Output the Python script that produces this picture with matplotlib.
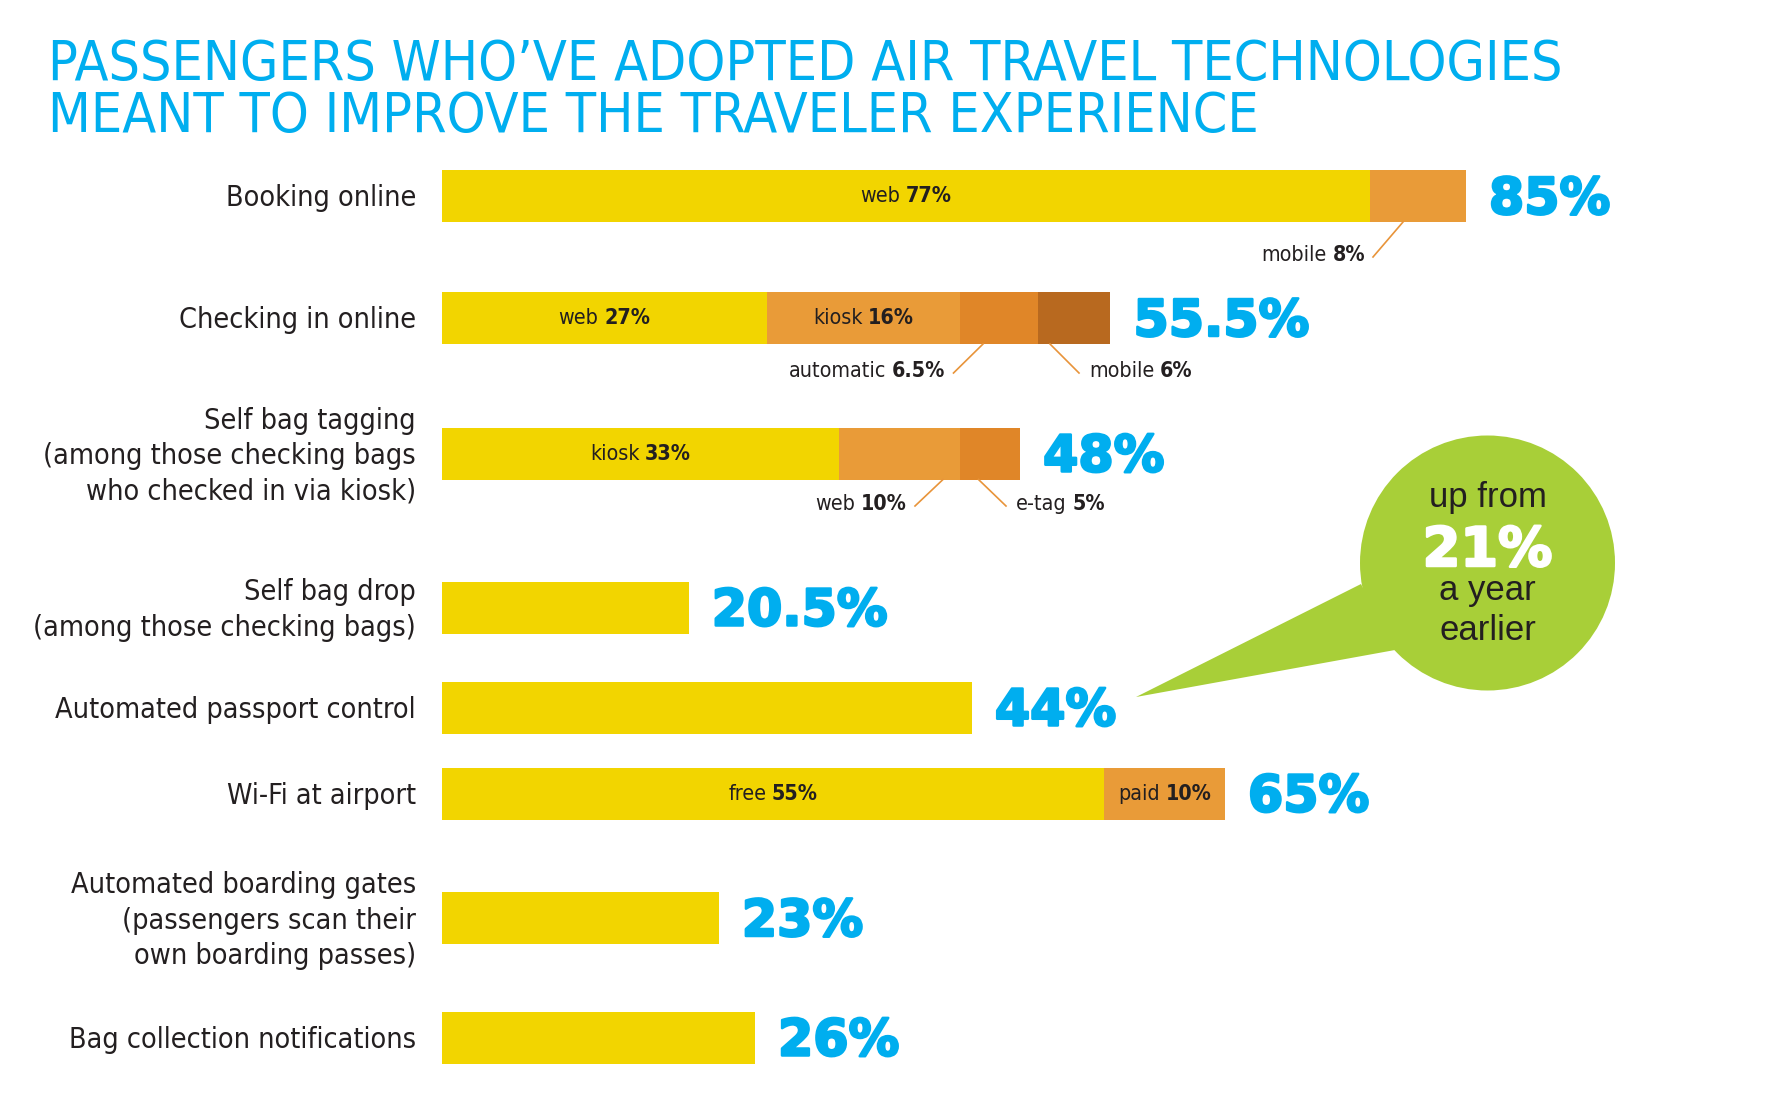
import matplotlib
matplotlib.use("Agg")
import matplotlib.pyplot as plt
import matplotlib.patheffects as pe
from matplotlib.patches import Ellipse, Polygon
from matplotlib.offsetbox import TextArea, HPacker, AnnotationBbox

# ---- data ----
categories = [
    "Booking online",
    "Checking in online",
    "Self bag tagging\n(among those checking bags\nwho checked in via kiosk)",
    "Self bag drop\n(among those checking bags)",
    "Automated passport control",
    "Wi-Fi at airport",
    "Automated boarding gates\n(passengers scan their\nown boarding passes)",
    "Bag collection notifications",
]
seg_names = [
    ["web", "mobile"],
    ["web", "kiosk", "automatic", "mobile"],
    ["kiosk", "web", "e-tag"],
    [""],
    [""],
    ["free", "paid"],
    [""],
    [""],
]
seg_values = [
    [77, 8],
    [27, 16, 6.5, 6],
    [33, 10, 5],
    [20.5],
    [44],
    [55, 10],
    [23],
    [26],
]
# segments whose label sits outside the bar with a leader line
callout_segs = [(0, 1), (1, 2), (1, 3), (2, 1), (2, 2)]
bubble_lines = ["up from", "21%", "a year", "earlier"]

title_lines = ["PASSENGERS WHO\u2019VE ADOPTED AIR TRAVEL TECHNOLOGIES",
               "MEANT TO IMPROVE THE TRAVELER EXPERIENCE"]

# ---- layout (figure pixels) ----
W, H = 1784, 1118
x0_px = 441.7
px_per_pct = 12.05
row_y = [196, 318, 453.5, 607.5, 707.5, 793.5, 918, 1037.5]
bar_h = 52

# callout layout: leader line (top x px, bottom x px, bottom y px), text side
callout_layout = [
    (1403, 1373, 257, "left"),
    (983, 953.5, 373, "left"),
    (1050, 1079, 373, "right"),
    (943, 915, 506, "left"),
    (978.5, 1006, 506, "right"),
]

colors = ["#F2D500", "#E99B38", "#E08628", "#B8691F"]
blue = "#00AEEF"
green = "#A8CF38"
dark = "#231F20"
cond = dict(family="DejaVu Sans", stretch="condensed")


def px2x(px):
    return (px - x0_px) / px_per_pct


def mixed_label(ax, x, y, name, value, align, size=15.4):
    a = TextArea(name, textprops=dict(size=size, color=dark, **cond))
    b = TextArea(value, textprops=dict(size=size, color=dark,
                                       weight="bold", **cond))
    box = HPacker(children=[a, b], align="baseline", pad=0, sep=4)
    ab = AnnotationBbox(box, (x, y), xycoords="data", frameon=False,
                        box_alignment=(align, 0.5), pad=0)
    ax.add_artist(ab)


fig = plt.figure(figsize=(W / 100, H / 100), dpi=100)
ax = fig.add_axes([0, 0, 1, 1])
ax.set_xlim(px2x(0), px2x(W))
ax.set_ylim(H, 0)
ax.axis("off")

# title
for i, line in enumerate(title_lines):
    ax.text(px2x(48), 80 + i * 52, line, size=39.8, color=blue,
            ha="left", va="baseline", **cond)

heavy_blue = [pe.withStroke(linewidth=1.8, foreground=blue)]
for r, (cat, names, vals) in enumerate(zip(categories, seg_names, seg_values)):
    y = row_y[r]
    left = 0
    for s, (nm, v) in enumerate(zip(names, vals)):
        ax.barh(y, v, left=left, height=bar_h, color=colors[s], linewidth=0)
        if nm and (r, s) not in callout_segs:
            mixed_label(ax, left + v / 2, y, nm, f"{v:g}%", 0.5)
        left += v
    total = sum(vals)
    ax.text(total + 23 / px_per_pct, y + 18, f"{total:g}%", family="DejaVu Sans",
            weight="bold", size=36.5, color=blue, ha="left", va="baseline",
            path_effects=heavy_blue)
    n = cat.count("\n") + 1
    # baseline alignment refers to the last line of a multi-line text
    ax.text(px2x(416), y + 10.5 + (n - 1) * 35.7 / 2, cat, size=20.6,
            color=dark, ha="right", va="baseline", linespacing=1.335, **cond)

# callouts with leader lines
for (r, s), (top_x, bot_x, bot_y, side) in zip(callout_segs, callout_layout):
    top_y = row_y[r] + bar_h / 2
    ax.plot([px2x(top_x), px2x(bot_x)], [top_y, bot_y], color="#E8943A", lw=1.2)
    v = seg_values[r][s]
    if side == "left":
        mixed_label(ax, px2x(bot_x - 8), bot_y - 2, seg_names[r][s], f"{v:g}%", 1.0)
    else:
        mixed_label(ax, px2x(bot_x + 10), bot_y - 2, seg_names[r][s], f"{v:g}%", 0.0)

# speech bubble
cx, cy, rad = 1487.5, 563, 127.5
ax.add_patch(Ellipse((px2x(cx), cy), 2 * rad / px_per_pct, 2 * rad,
                     facecolor=green, edgecolor="none", zorder=3))
tail = [(1136, 697), (1361, 584), (1395, 650)]
ax.add_patch(Polygon([(px2x(px), py) for px, py in tail], closed=True,
                     facecolor=green, edgecolor="none", zorder=3))
ax.text(px2x(cx), 507, bubble_lines[0], family="Liberation Sans", size=25,
        color=dark, ha="center", va="baseline", zorder=4)
ax.text(px2x(cx), 566, bubble_lines[1], family="DejaVu Sans", weight="bold",
        size=39, color="white", ha="center", va="baseline", zorder=4,
        path_effects=[pe.withStroke(linewidth=1.8, foreground="white")])
ax.text(px2x(cx), 600, bubble_lines[2], family="Liberation Sans", size=25,
        color=dark, ha="center", va="baseline", zorder=4)
ax.text(px2x(cx), 640, bubble_lines[3], family="Liberation Sans", size=25,
        color=dark, ha="center", va="baseline", zorder=4)

fig.savefig("out.png", dpi=100)
